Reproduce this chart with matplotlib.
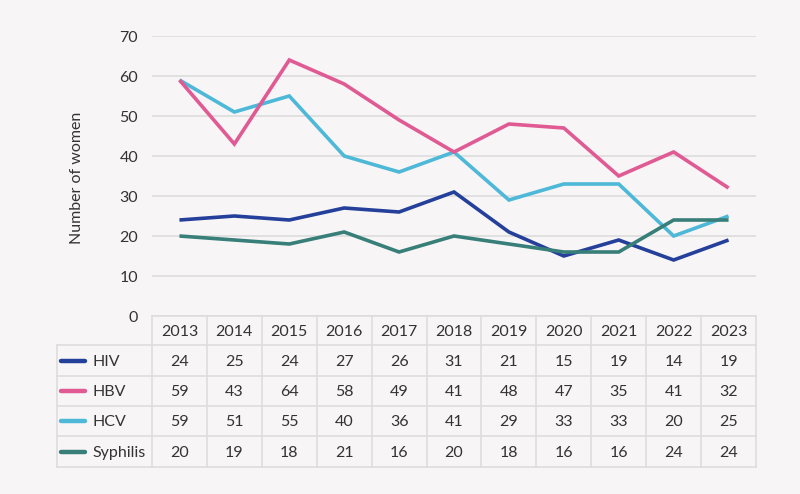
import matplotlib
matplotlib.use("Agg")
import matplotlib.pyplot as plt

# ─── Data ───
years = ["2013", "2014", "2015", "2016", "2017", "2018",
         "2019", "2020", "2021", "2022", "2023"]
series_names = ["HIV", "HBV", "HCV", "Syphilis"]
hiv = [24, 25, 24, 27, 26, 31, 21, 15, 19, 14, 19]
hbv = [59, 43, 64, 58, 49, 41, 48, 47, 35, 41, 32]
hcv = [59, 51, 55, 40, 36, 41, 29, 33, 33, 20, 25]
syphilis = [20, 19, 18, 21, 16, 20, 18, 16, 16, 24, 24]
yticks = [0, 10, 20, 30, 40, 50, 60, 70]

colors = ["#24409a", "#e05a93", "#4db8d8", "#377f78"]
BG = "#f7f5f6"
TXT = "#333333"
GRID = "#dcdcdc"

plt.rcParams["font.family"] = ["Lato", "DejaVu Sans"]

W, H = 800, 494
fig = plt.figure(figsize=(W / 100, H / 100), dpi=100, facecolor=BG)

# pixel box of the plot area
x0, x1 = 152, 756
y_top, y_bot = 36, 316
ax = fig.add_axes([x0 / W, 1 - y_bot / H, (x1 - x0) / W, (y_bot - y_top) / H])
ax.set_facecolor(BG)

n = len(years)
xs = list(range(n))
all_series = [hiv, hbv, hcv, syphilis]
for vals, col, z in zip(all_series, colors, [4, 3, 2, 5]):
    ax.plot(xs, vals, color=col, lw=2.6, solid_capstyle="butt",
            solid_joinstyle="miter", zorder=z)

ax.set_xlim(-0.5, n - 0.5)
ax.set_ylim(0, 70)
ax.set_yticks(yticks)
ax.set_yticklabels([str(t) for t in yticks], fontsize=11.5, color=TXT)
ax.set_xticks([])
ax.tick_params(axis="y", length=0, pad=10)
for sp in ax.spines.values():
    sp.set_visible(False)
ax.grid(axis="y", color=GRID, lw=1.2, zorder=0)
ax.set_axisbelow(True)
fig.text(77 / W, 1 - 178 / H, "Number of women", rotation=90,
         ha="center", va="center", fontsize=11.5, color=TXT)

# ─── Data table drawn in pixel coordinates ───
tx = fig.add_axes([0, 0, 1, 1], facecolor="none")
tx.set_xlim(0, W)
tx.set_ylim(H, 0)
tx.axis("off")

lab_x0 = 57
col_w = (x1 - x0) / n
row_tops = [316, 345, 376, 406, 436, 467]
lc = "#dddddd"
lw = 1.2

# horizontal lines
tx.plot([x0, x1], [row_tops[0]] * 2, color=lc, lw=lw)
for yy in row_tops[1:]:
    tx.plot([lab_x0, x1], [yy] * 2, color=lc, lw=lw)
# vertical lines
tx.plot([lab_x0, lab_x0], [row_tops[1], row_tops[-1]], color=lc, lw=lw)
for i in range(n + 1):
    xx = x0 + i * col_w
    tx.plot([xx, xx], [row_tops[0], row_tops[-1]], color=lc, lw=lw)

# header
for i, yr in enumerate(years):
    cx = x0 + (i + 0.5) * col_w
    tx.text(cx, (row_tops[0] + row_tops[1]) / 2 + 1, yr, ha="center",
            va="center", fontsize=11.5, color=TXT)

# rows
for r, (name, vals, col) in enumerate(zip(series_names, all_series, colors)):
    cy = (row_tops[r + 1] + row_tops[r + 2]) / 2 + 1
    tx.plot([61, 85], [cy - 1, cy - 1], color=col, lw=3.2,
            solid_capstyle="round")
    tx.text(92, cy, name, ha="left", va="center", fontsize=11.5, color=TXT)
    for i, v in enumerate(vals):
        cx = x0 + (i + 0.5) * col_w
        tx.text(cx, cy, str(v), ha="center", va="center", fontsize=11.5,
                color=TXT)

fig.savefig("out.png", dpi=100, facecolor=BG)
